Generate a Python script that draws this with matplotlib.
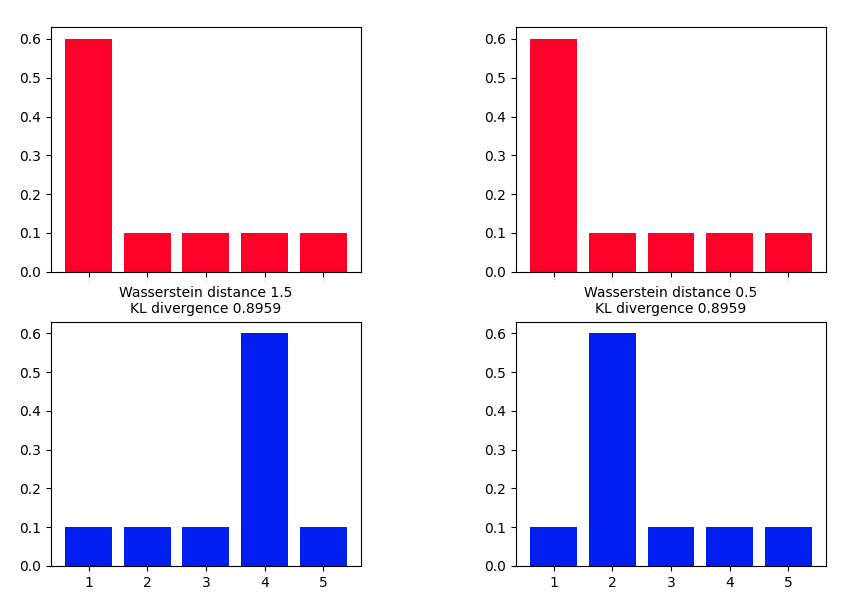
import numpy as np
import matplotlib.pyplot as plt

x = [1, 2, 3, 4, 5]
p = [0.6, 0.1, 0.1, 0.1, 0.1]
q_left = [0.1, 0.1, 0.1, 0.6, 0.1]
q_right = [0.1, 0.6, 0.1, 0.1, 0.1]
titles = ["Wasserstein distance 1.5\nKL divergence 0.8959",
          "Wasserstein distance 0.5\nKL divergence 0.8959"]

red = "#ff0028"
blue = "#001ef0"

fig, axes = plt.subplots(2, 2, figsize=(8.54, 5.99), dpi=100)

for col, q in enumerate([q_left, q_right]):
    top = axes[0, col]
    bot = axes[1, col]
    top.bar(x, p, color=red)
    top.set_xticks(x)
    top.tick_params(axis="x", labelsize=1)
    bot.bar(x, q, color=blue)
    bot.set_xticks(x)
    bot.set_title(titles[col], fontsize=10)

fig.subplots_adjust(left=0.0597, right=0.9672, top=0.9544, bottom=0.0551,
                    wspace=0.5, hspace=0.2045)
fig.savefig("out.png")
